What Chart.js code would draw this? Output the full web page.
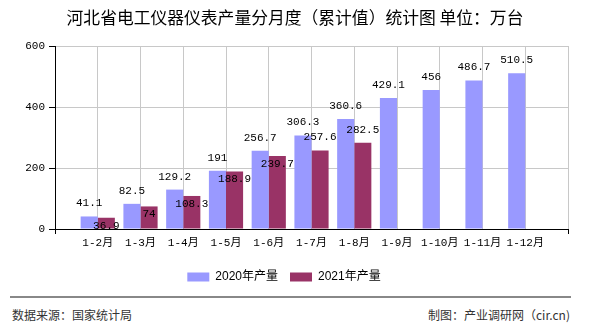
<!DOCTYPE html>
<html>
<head>
<meta charset="utf-8">
<script src="https://cdn.jsdelivr.net/npm/chart.js@4/dist/chart.umd.min.js"></script>
<style>
  body { margin: 0; background: #fff; }
  #wrap { position: relative; width: 590px; height: 330px; overflow: hidden; font-family: "Noto Sans CJK SC", sans-serif; }
  #title { position: absolute; left: 0; top: 7px; width: 590px; text-align: center; font-size: 16.8px; line-height: 20px; color: #000; }
  #chart { position: absolute; left: 0; top: 0; }
  #rule { position: absolute; left: 10px; top: 296px; width: 561px; height: 0; border-top: 2px solid #888; }
  .foot { position: absolute; top: 308px; font-size: 12px; line-height: 14px; color: #333; }
  #src { left: 12px; }
  #maker { right: 20px; }
</style>
</head>
<body>
<div id="wrap">
  <canvas id="chart" width="590" height="293"></canvas>
  <div id="title">河北省电工仪器仪表产量分月度（累计值）统计图 单位：万台</div>
  <div id="rule"></div>
  <div class="foot" id="src">数据来源：国家统计局</div>
  <div class="foot" id="maker">制图：产业调研网（cir.cn)</div>
</div>
<script>
const months = ["1-2月", "1-3月", "1-4月", "1-5月", "1-6月", "1-7月", "1-8月", "1-9月", "1-10月", "1-11月", "1-12月"];
const output2020 = [41.1, 82.5, 129.2, 191, 256.7, 306.3, 360.6, 429.1, 456, 486.7, 510.5];
const output2021 = [36.9, 74, 108.3, 188.9, 239.7, 257.6, 282.5];
const yMin = 0, yMax = 600, yStep = 200;

const tickFont = { family: '"Liberation Mono", "Noto Sans CJK SC", monospace', size: 11 };

// value labels; 2021 label goes inside the bar when it would hit the 2020 one
const valueLabels = {
  id: "valueLabels",
  afterDatasetsDraw(chart) {
    const ctx = chart.ctx;
    const bars20 = chart.getDatasetMeta(0).data;
    const bars21 = chart.getDatasetMeta(1).data;
    ctx.save();
    ctx.font = '11px "Liberation Mono", "Noto Sans CJK SC", monospace';
    ctx.fillStyle = "#000";
    ctx.textAlign = "center";
    ctx.textBaseline = "middle";
    bars20.forEach((bar, i) => {
      ctx.fillText(String(output2020[i]), bar.x, bar.y - 13);
    });
    bars21.forEach((bar, i) => {
      const above = bar.y - 13;
      const other = bars20[i] ? bars20[i].y - 13 : -999;
      const ly = Math.abs(above - other) < 12 ? bar.y + 8 : above;
      ctx.fillText(String(output2021[i]), bar.x, ly);
    });
    ctx.restore();
  }
};

const lastX = months.length + 1;

new Chart(document.getElementById("chart"), {
  type: "bar",
  data: {
    datasets: [
      {
        label: "2020年产量",
        data: output2020.map((v, i) => ({ x: i + 1, y: v })),
        backgroundColor: "#9999FF"
      },
      {
        label: "2021年产量",
        data: output2021.map((v, i) => ({ x: i + 1, y: v })),
        backgroundColor: "#993366"
      }
    ]
  },
  options: {
    responsive: false,
    animation: false,
    categoryPercentage: 0.8,
    barPercentage: 1,
    layout: { padding: { left: 0, top: 46, right: 22, bottom: 0 } },
    scales: {
      x: {
        type: "linear",
        offset: false,
        min: 0,
        max: lastX,
        ticks: {
          stepSize: 1,
          autoSkip: false,
          maxRotation: 0,
          padding: 2,
          color: "#000",
          font: tickFont,
          callback: v => months[v - 1] || ""
        },
        grid: {
          offset: false,
          color: "#c8c8c8",
          tickLength: 5,
          tickColor: c => (c.tick && (c.tick.value === 0 || c.tick.value === lastX)) ? "#000" : "rgba(0,0,0,0)"
        },
        border: { color: "#000" },
        afterFit: s => { s.height = 30; }
      },
      y: {
        min: yMin,
        max: yMax,
        ticks: { stepSize: yStep, padding: 4, color: "#000", font: tickFont },
        grid: { color: "#c8c8c8", tickLength: 6, tickColor: "#000" },
        border: { color: "#000" },
        afterFit: s => { s.width = 55; }
      }
    },
    plugins: {
      legend: {
        position: "bottom",
        labels: {
          boxWidth: 22,
          boxHeight: 9,
          padding: 12,
          color: "#000",
          font: { family: '"Liberation Sans", "Noto Sans CJK SC", sans-serif', size: 12 }
        }
      },
      tooltip: { enabled: false }
    }
  },
  plugins: [valueLabels]
});
</script>
</body>
</html>
